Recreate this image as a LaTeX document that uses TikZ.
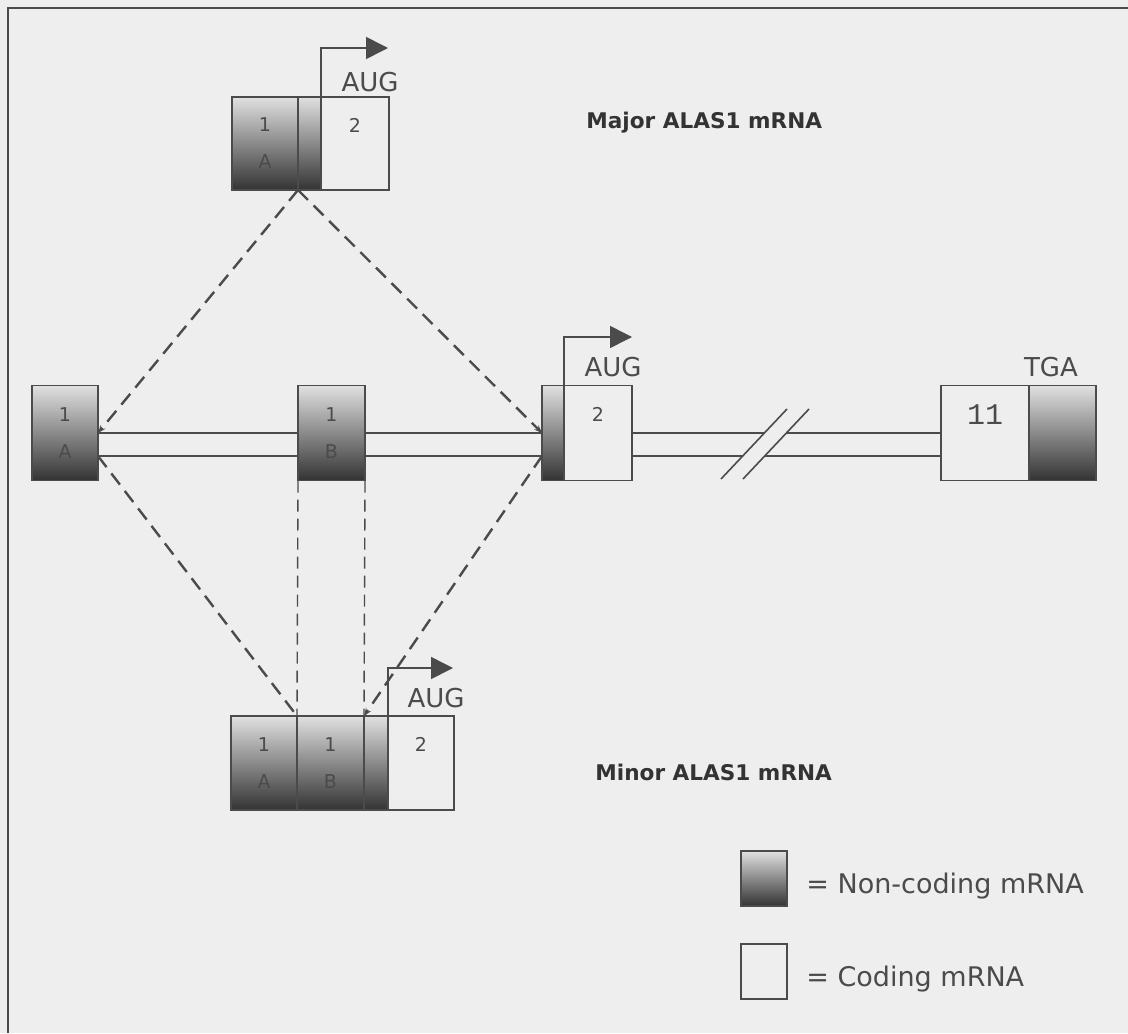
\documentclass[tikz,border=0pt]{standalone}
\usepackage{fontspec}
\setmainfont{DejaVu Sans}
\newfontfamily\exmono{Liberation Mono}
\usepackage{xcolor}
\usetikzlibrary{arrows.meta,positioning,calc}
\definecolor{paper}{RGB}{238,238,238}
\definecolor{inkgray}{RGB}{75,75,75}

\begin{document}
\begin{tikzpicture}[x=0.5pt,y=-0.5pt,>=Latex,
  exon/.style={draw=inkgray,line width=0.8pt,inner sep=0pt,outer sep=0pt,
    minimum height=47.5pt,align=center,text=inkgray,
    font=\fontsize{9.5}{18.5}\selectfont},
  noncod/.style={exon,top color=black!12,bottom color=black!80},
  cod/.style={exon,fill=paper},
  intron/.style={inkgray,line width=0.8pt},
  splice/.style={inkgray,line width=1.2pt,dash pattern=on 7pt off 4pt},
  drop/.style={inkgray,line width=0.7pt,dash pattern=on 6pt off 3.5pt},
  startsite/.style={inkgray,line width=0.8pt,-{Triangle[length=11pt,width=11pt]}},
  codon/.style={text=inkgray,font=\fontsize{13}{15}\selectfont},
  title/.style={text=black!80,font=\bfseries\fontsize{10.8}{13}\selectfont,anchor=west,inner sep=0pt},
  key/.style={text=inkgray,font=\fontsize{13.5}{16}\selectfont,anchor=west,inner sep=0pt}]

  \useasboundingbox (0,0) rectangle (1128,1033);
  \fill[paper] (0,0) rectangle (1128,1033);
  \draw[inkgray,line width=1pt] (8,1033) -- (8,8) -- (1128,8);

  % gene
  \node[noncod,minimum width=33pt] (ex1a) at (65,433) {1\\A};
  \node[noncod,minimum width=33.5pt] (ex1b) at (331.5,433) {1\\B};
  \node[noncod,minimum width=11pt] (ex2nc) at (553,433) {};
  \node[cod,minimum width=34pt,right=0pt of ex2nc] (ex2) {2\\\phantom{A}};
  \node[cod,minimum width=44pt,font=\exmono\fontsize{15}{18}\selectfont] (ex11) at (985,433) {11\\\phantom{1}};
  \node[noncod,minimum width=33.5pt,right=0pt of ex11] (ex11nc) {};

  \coordinate (brkup) at (764,433);
  \coordinate (brkupr) at (786,433);
  \coordinate (brklo) at (743,456);
  \coordinate (brklor) at (765,456);
  \draw[intron] (ex1a.east) -- (ex1b.west);
  \draw[intron] ([yshift=-11.5pt]ex1a.east) -- ([yshift=-11.5pt]ex1b.west);
  \draw[intron] (ex1b.east) -- (ex2nc.west);
  \draw[intron] ([yshift=-11.5pt]ex1b.east) -- ([yshift=-11.5pt]ex2nc.west);
  \draw[intron] (ex2.east) -- (brkup);
  \draw[intron] (brkupr) -- (ex11.west);
  \draw[intron] ([yshift=-11.5pt]ex2.east) -- (brklo);
  \draw[intron] (brklor) -- ([yshift=-11.5pt]ex11.west);
  \draw[intron] (721,479) -- (787,409);
  \draw[intron] (743,479) -- (809,409);

  \draw[startsite] (ex2.north west) |- (632,337);
  \node[codon] (aug2) at (613,367) {AUG};
  \node[codon] (tga) at (1051,367) {TGA};

  % major transcript
  \node[noncod,minimum width=33pt,minimum height=46.5pt] (mj1a) at (265,143.5) {1\\A};
  \node[noncod,minimum width=11.5pt,minimum height=46.5pt,right=0pt of mj1a] (mjnc) {};
  \node[cod,minimum width=34pt,minimum height=46.5pt,right=0pt of mjnc] (mj2) {2\\\phantom{A}};
  \draw[startsite] (mj2.north west) |- (388,48);
  \node[codon] (augmj) at (370,82) {AUG};
  \node[title] (majlab) at (586,123) {Major ALAS1 mRNA};

  % minor transcript
  \node[noncod,minimum width=33pt,minimum height=47pt] (mn1a) at (264,763) {1\\A};
  \node[noncod,minimum width=33.5pt,minimum height=47pt,right=0pt of mn1a] (mn1b) {1\\B};
  \node[noncod,minimum width=12pt,minimum height=47pt,right=0pt of mn1b] (mnnc) {};
  \node[cod,minimum width=33pt,minimum height=47pt,right=0pt of mnnc] (mn2) {2\\\phantom{A}};
  \draw[startsite] (mn2.north west) |- (453,668);
  \node[codon] (augmn) at (436,698) {AUG};
  \node[title] (minlab) at (595,772) {Minor ALAS1 mRNA};

  % splicing
  \draw[splice,-{Stealth[length=4pt,width=3pt]}] (mjnc.south west) -- (ex1a.east);
  \draw[splice,-{Stealth[length=4pt,width=3pt]}] (mjnc.south west) -- (ex2nc.west);
  \draw[splice] ([yshift=-11.5pt]ex1a.east) -- (mn1b.north west);
  \draw[splice,-{Stealth[length=4pt,width=3pt]}] ([yshift=-11.5pt]ex2nc.west) -- (mnnc.north west);
  \draw[drop] (ex1b.south west) -- (mn1b.north west);
  \draw[drop] (ex1b.south east) -- (mnnc.north west);

  % key
  \node[noncod,minimum width=23pt,minimum height=27.5pt] (keync) at (764,878.5) {};
  \node[key] (keynclab) at (806,886) {= Non-coding mRNA};
  \node[cod,minimum width=23pt,minimum height=27.5pt] (keycod) at (764,971.5) {};
  \node[key] (keycodlab) at (806,979) {= Coding mRNA};
\end{tikzpicture}
\end{document}
